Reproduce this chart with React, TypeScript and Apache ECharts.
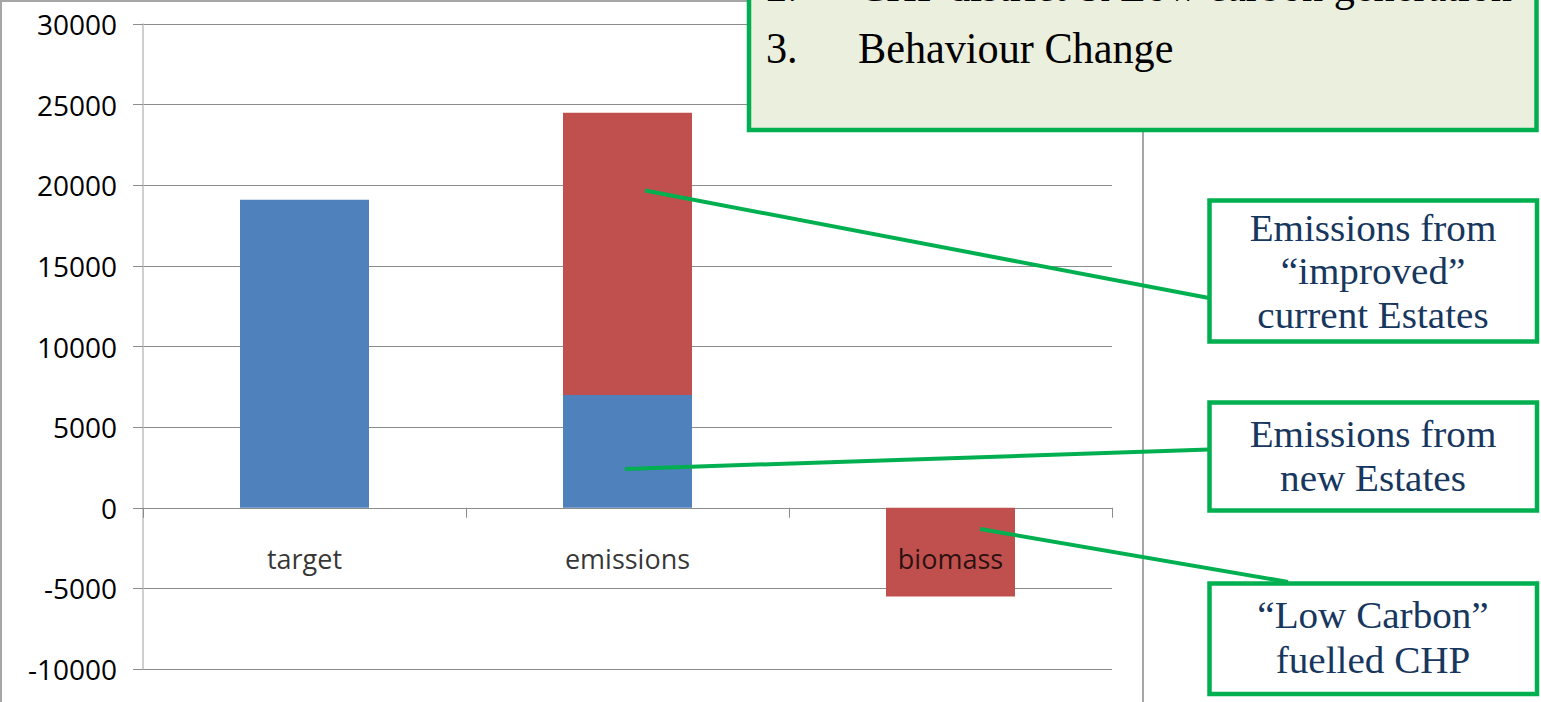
import React, { useEffect, useRef } from "react";
import * as echarts from "echarts";

const categories = ["target", "emissions", "biomass"];
const blueValues: (number | null)[] = [19100, 7000, null];
const redValues: (number | null)[] = [null, 17500, -5500];
const yMin = -10000;
const yMax = 30000;
const yInterval = 5000;

const topLines = [
  { num: "2.", text: "CHP district & Low carbon generation" },
  { num: "3.", text: "Behaviour Change" },
];
const callout1 = ["Emissions from", "\u201Cimproved\u201D", "current Estates"];
const callout2 = ["Emissions from", "new Estates"];
const callout3 = ["\u201CLow Carbon\u201D", "fuelled CHP"];

const GREEN = "#00B050";
const NAVY = "#17375E";
const SERIF = "'Liberation Serif', 'DejaVu Serif', serif";
const SANS = "'Open Sans', 'Noto Sans', sans-serif";

function boxTexts(lines: string[], cx: number, yStart: number, step: number) {
  return lines.map((t, i) => ({
    type: "text",
    z: 110,
    x: cx,
    y: yStart + i * step,
    scaleX: 1.03,
    style: {
      text: t,
      fill: NAVY,
      font: `38px ${SERIF}`,
      align: "center",
      verticalAlign: "middle",
    },
  }));
}

export default function App() {
  const ref = useRef<HTMLDivElement>(null);
  useEffect(() => {
    if (!ref.current) return;
    const chart = echarts.init(ref.current, undefined, { renderer: "svg" });
    const lineY = [-14, 48.5];
    const graphic: any[] = [
      {
        type: "rect",
        z: 0,
        silent: true,
        shape: { x: 1, y: 1, width: 1142, height: 800 },
        style: { fill: "none", stroke: "#A6A6A6", lineWidth: 2 },
      },
      {
        type: "rect",
        z: 105,
        shape: { x: 749, y: -20, width: 787.5, height: 150 },
        style: { fill: "#EBEFDD", stroke: GREEN, lineWidth: 4.5 },
      },
      ...topLines.flatMap((l, i) => [
        {
          type: "text",
          z: 110,
          x: 766,
          y: lineY[i],
          scaleX: 0.96,
          style: { text: l.num, fill: "#000", font: `44px ${SERIF}`, align: "left", verticalAlign: "middle" },
        },
        {
          type: "text",
          z: 110,
          x: 858,
          y: lineY[i],
          scaleX: 0.96,
          style: { text: l.text, fill: "#000", font: `44px ${SERIF}`, align: "left", verticalAlign: "middle" },
        },
      ]),
      {
        type: "line",
        z: 100,
        shape: { x1: 645, y1: 190.5, x2: 1209, y2: 298 },
        style: { stroke: GREEN, lineWidth: 4 },
      },
      {
        type: "line",
        z: 100,
        shape: { x1: 625, y1: 469, x2: 1209, y2: 449.5 },
        style: { stroke: GREEN, lineWidth: 4 },
      },
      {
        type: "line",
        z: 100,
        shape: { x1: 980, y1: 529, x2: 1288, y2: 582 },
        style: { stroke: GREEN, lineWidth: 4 },
      },
      {
        type: "rect",
        z: 105,
        shape: { x: 1209.5, y: 200.5, width: 327.5, height: 141 },
        style: { fill: "#fff", stroke: GREEN, lineWidth: 4.5 },
      },
      {
        type: "rect",
        z: 105,
        shape: { x: 1209.5, y: 402.5, width: 327.5, height: 108 },
        style: { fill: "#fff", stroke: GREEN, lineWidth: 4.5 },
      },
      {
        type: "rect",
        z: 105,
        shape: { x: 1209.5, y: 583.5, width: 327.5, height: 110.5 },
        style: { fill: "#fff", stroke: GREEN, lineWidth: 4.5 },
      },
      ...boxTexts(callout1, 1373, 228, 43.5),
      ...boxTexts(callout2, 1373, 434, 44),
      ...boxTexts(callout3, 1373, 615, 45),
    ];

    chart.setOption({
      animation: false,
      grid: { left: 143, right: 429, top: 24, bottom: 33, containLabel: false, outerBoundsMode: "none" },
      xAxis: {
        type: "category",
        data: categories,
        axisLine: { show: true, onZero: true, lineStyle: { color: "#8C8C8C", width: 1 } },
        axisTick: { show: true, length: 10, lineStyle: { color: "#8C8C8C" } },
        axisLabel: { show: false },
        splitLine: { show: false },
      },
      yAxis: {
        type: "value",
        min: yMin,
        max: yMax,
        interval: yInterval,
        axisLine: { show: true, lineStyle: { color: "#BFBFBF", width: 1.5 } },
        axisTick: { show: true, length: 10, lineStyle: { color: "#8C8C8C" } },
        axisLabel: {
          margin: 26,
          color: "#000",
          fontFamily: SANS,
          fontSize: 28,
          formatter: (v: number) => String(v),
        },
        splitLine: { show: true, lineStyle: { color: "#8C8C8C", width: 1 } },
      },
      series: [
        {
          name: "blue",
          type: "bar",
          stack: "total",
          barWidth: 129,
          data: blueValues,
          itemStyle: { color: "#4F81BD" },
        },
        {
          name: "red",
          type: "bar",
          stack: "total",
          barWidth: 129,
          data: redValues,
          itemStyle: { color: "#C0504D" },
        },
        {
          name: "categoryLabels",
          type: "scatter",
          z: 5,
          symbolSize: 0,
          silent: true,
          data: categories.map((c) => [c, 0]),
          label: {
            show: true,
            position: "bottom",
            distance: 37,
            formatter: (p: any) => p.name,
            color: "#000",
            fontFamily: SANS,
            fontSize: 27,
          },
        },
      ],
      graphic,
    });
    return () => chart.dispose();
  }, []);
  return (
    <div
      ref={ref}
      style={{ position: "absolute", left: 0, top: 0, width: 1541, height: 702, background: "#fff" }}
    />
  );
}
